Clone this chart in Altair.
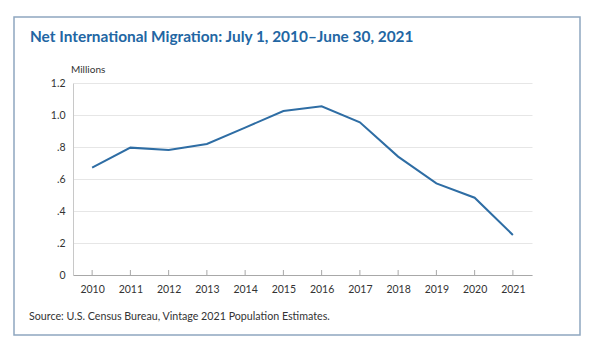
import altair as alt
import pandas as pd

years = ["2010", "2011", "2012", "2013", "2014", "2015", "2016", "2017", "2018", "2019", "2020", "2021"]
migration = [0.671, 0.796, 0.781, 0.819, 0.921, 1.025, 1.054, 0.954, 0.740, 0.573, 0.483, 0.250]
y_ticks = [0, 0.2, 0.4, 0.6, 0.8, 1.0, 1.2]
title_text = "Net International Migration: July 1, 2010\u2013June 30, 2021"
unit_text = "Millions"
source_text = "Source: U.S. Census Bureau, Vintage 2021 Population Estimates."

df = pd.DataFrame({"year": years, "value": migration})

FONT = "Lato"
W, H = 459, 192

xaxis = alt.Axis(title=None, labelAngle=0, ticks=False, domainColor="#a8a8a8",
                 labelPadding=9, labelFontSize=10.5, labelColor="#333333",
                 labelFont=FONT, grid=False)
xscale = alt.Scale(type="point", padding=0.5)

base = alt.Chart(df)

line = base.mark_line(color="#2e6da4", strokeWidth=2).encode(
    x=alt.X("year:O", scale=xscale, axis=xaxis),
    y=alt.Y("value:Q", scale=alt.Scale(domain=[0, 1.2], nice=False),
            axis=alt.Axis(title=None, values=y_ticks, ticks=False, domainColor="#c8c8c8",
                          gridColor="#e6e6e6", labelPadding=8, labelFontSize=10.5,
                          labelColor="#333333", labelFont=FONT,
                          labelExpr="datum.value == 0 ? '0' : datum.value >= 1 ? format(datum.value, '.1f') : replace(format(datum.value, '.1f'), '0.', '.')")),
)

ticks = base.mark_rule(color="#a8a8a8", strokeWidth=1).encode(
    x=alt.X("year:O", scale=xscale, axis=xaxis),
    y=alt.value(H - 5), y2=alt.value(H),
)

border = alt.Chart(alt.Data(values=[{"b": 1}])).mark_rect(
    fillOpacity=0, stroke="#8fa7c0", strokeWidth=1.5
).encode(x=alt.value(-59), x2=alt.value(507), y=alt.value(-66), y2=alt.value(252))

title = alt.Chart(alt.Data(values=[{"t": title_text}])).mark_text(
    align="left", baseline="alphabetic", font=FONT, fontWeight="bold", fontSize=15.4, color="#2266a3"
).encode(text="t:N", x=alt.value(-43), y=alt.value(-41))

unit = alt.Chart(alt.Data(values=[{"t": unit_text}])).mark_text(
    align="left", baseline="alphabetic", font=FONT, fontSize=10, color="#333333"
).encode(text="t:N", x=alt.value(-2), y=alt.value(-10))

source = alt.Chart(alt.Data(values=[{"t": source_text}])).mark_text(
    align="left", baseline="alphabetic", font=FONT, fontSize=10.7, color="#333333"
).encode(text="t:N", x=alt.value(-44), y=alt.value(237))

chart = alt.layer(border, ticks, line, title, unit, source).properties(
    width=W, height=H,
    autosize=alt.AutoSizeParams(type="none"),
    padding={"left": 73, "top": 83, "right": 68, "bottom": 79},
    background="white",
).configure_view(stroke=None)

chart.save("out.html", embed_options={"renderer": "svg", "actions": False})
